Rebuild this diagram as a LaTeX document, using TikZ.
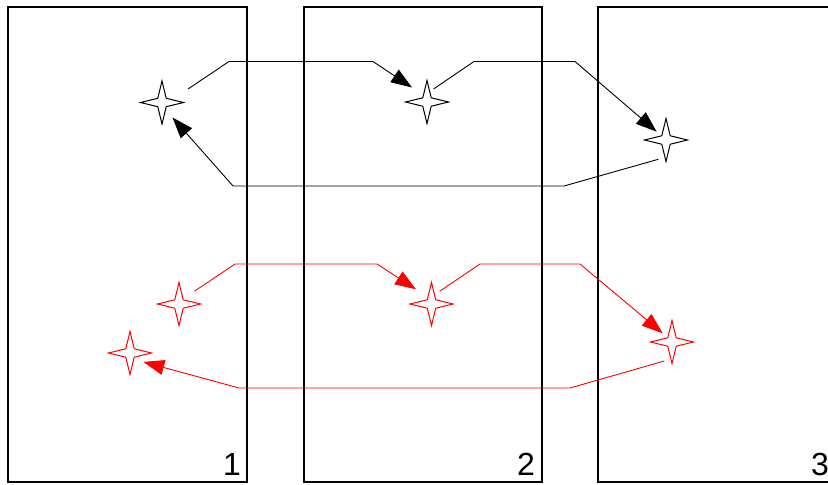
\documentclass[tikz,border=0pt]{standalone}
\usepackage{fontspec}
\setmainfont{Liberation Sans}
\usetikzlibrary{shapes.geometric,arrows.meta,calc}
\definecolor{redline}{RGB}{255,0,0}
\tikzset{
  panel/.style={draw=black,line width=1.3pt},
  starnode/.style={star,star points=4,star point ratio=3.6,minimum size=43pt,inner sep=0pt,outer sep=0pt,draw,line width=1pt,fill=white},
  conn/.style={line width=0.9pt,-{Triangle[length=21pt,width=15pt]}},
  num/.style={font=\fontsize{32}{32}\selectfont,anchor=base,inner sep=0pt}
}
\begin{document}
\begin{tikzpicture}[x=1pt,y=-1pt]
\useasboundingbox (0,0) rectangle (828,485);
% panels
\draw[panel] (8,7) rectangle (247,482);
\draw[panel] (304,7) rectangle (542,482);
\draw[panel] (860,7) -- (598,7) -- (598,482) -- (860,482);
\node[num] (n1) at (232,475) {1};
\node[num] (n2) at (526,475) {2};
\node[num] (n3) at (820,475) {3};
% black stars
\node[starnode] (s1) at (162,102.5) {};
\node[starnode] (s2) at (427,102) {};
\node[starnode] (s3) at (666,140) {};
% red stars
\node[starnode,draw=redline] (r1) at (179,304) {};
\node[starnode,draw=redline] (r2) at (130,353) {};
\node[starnode,draw=redline] (r3) at (431.5,304) {};
\node[starnode,draw=redline] (r4) at (672,342) {};
% black connectors
\draw[conn] ($(s1)+(26,-13.5)$) -- (229,61.5) -- (373,61.5) -- ($(s2)+(-15,-14.5)$);
\draw[conn] ($(s2)+(6.5,-13)$) -- (474,61.5) -- (575,61.5) -- ($(s3)+(-9.3,-8.3)$);
\draw[conn] ($(s3)+(-7.7,19.3)$) -- (564,186) -- (233,186) -- ($(s1)+(10.5,15)$);
% red connectors
\draw[conn,redline] ($(r1)+(15.5,-12.8)$) -- (235,264) -- (377,264) -- ($(r3)+(-15.5,-14.7)$);
\draw[conn,redline] ($(r3)+(8.5,-13)$) -- (480,264) -- (580,264) -- ($(r4)+(-9.3,-8.7)$);
\draw[conn,redline] ($(r4)+(-7.7,19)$) -- (570,388) -- (239,388) -- ($(r2)+(13.3,8.9)$);
\end{tikzpicture}
\end{document}
